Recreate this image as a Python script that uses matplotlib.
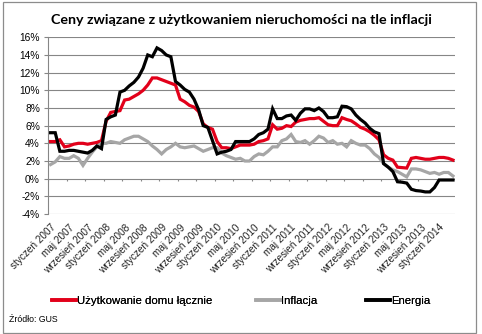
import matplotlib
matplotlib.use("Agg")
import matplotlib.pyplot as plt
from matplotlib.patches import Rectangle
from matplotlib.lines import Line2D

months_pl = ["styczeń", "luty", "marzec", "kwiecień", "maj", "czerwiec",
             "lipiec", "sierpień", "wrzesień", "październik", "listopad", "grudzień"]
categories = [f"{months_pl[m]} {y}" for y in range(2007, 2015) for m in range(12)][:88]

uzytkowanie = [4.2, 4.2, 4.4, 3.6, 3.7, 3.9, 4.0, 4.0, 3.9, 4.0, 4.1, 4.3,
               6.5, 7.5, 7.6, 7.7, 8.9, 9.0, 9.3, 9.6, 10.0, 10.6, 11.4, 11.4,
               11.2, 11.0, 10.8, 10.6, 9.0, 8.7, 8.3, 8.1, 7.6, 6.2, 5.8, 5.6,
               4.2, 3.5, 3.5, 3.4, 3.6, 3.8, 3.8, 3.8, 3.9, 4.2, 4.3, 4.5,
               6.1, 5.6, 5.7, 6.0, 5.9, 6.4, 6.6, 6.7, 6.8, 6.8, 6.9, 6.5,
               6.1, 6.0, 6.0, 6.9, 6.7, 6.55, 6.2, 5.8, 5.6, 5.3, 4.9, 4.4,
               2.7, 2.3, 2.1, 1.3, 1.25, 1.2, 2.3, 2.4, 2.3, 2.2, 2.2, 2.3,
               2.4, 2.4, 2.3, 2.1]

inflacja = [1.6, 1.9, 2.5, 2.3, 2.3, 2.6, 2.3, 1.5, 2.3, 3.0, 3.6, 4.0,
            4.0, 4.2, 4.1, 4.0, 4.4, 4.6, 4.8, 4.8, 4.5, 4.2, 3.7, 3.3,
            2.8, 3.3, 3.6, 4.0, 3.6, 3.5, 3.6, 3.7, 3.4, 3.1, 3.3, 3.5,
            3.5, 2.9, 2.6, 2.4, 2.2, 2.3, 2.0, 2.0, 2.5, 2.8, 2.7, 3.1,
            3.6, 3.6, 4.3, 4.5, 5.0, 4.2, 4.1, 4.3, 3.9, 4.3, 4.8, 4.6,
            4.1, 4.3, 3.9, 4.0, 3.6, 4.3, 4.0, 3.8, 3.8, 3.4, 2.8, 2.4,
            1.7, 1.3, 1.0, 0.8, 0.5, 0.2, 1.1, 1.1, 1.0, 0.8, 0.6, 0.7,
            0.5, 0.7, 0.7, 0.3]

energia = [5.2, 5.2, 3.1, 3.1, 3.2, 3.2, 3.1, 3.0, 2.9, 3.2, 3.7, 3.4,
           6.7, 7.0, 7.2, 9.8, 10.0, 10.5, 10.9, 11.5, 12.5, 14.0, 13.8, 14.8,
           14.5, 14.0, 13.8, 11.0, 10.6, 10.1, 9.8, 9.0, 7.8, 6.0, 5.8, 4.3,
           2.8, 3.0, 3.1, 3.3, 4.2, 4.2, 4.2, 4.2, 4.5, 5.0, 5.2, 5.6,
           7.9, 6.8, 6.8, 7.1, 7.2, 6.6, 7.4, 7.9, 7.9, 7.7, 8.0, 7.6,
           6.9, 6.9, 7.0, 8.2, 8.15, 7.9, 7.2, 6.7, 6.3, 5.7, 5.3, 5.1,
           1.7, 1.3, 0.8, -0.35, -0.4, -0.5, -1.2, -1.35, -1.4, -1.5, -1.5, -1.0,
           -0.15, -0.15, -0.15, -0.15]

y_ticks = [-4, -2, 0, 2, 4, 6, 8, 10, 12, 14, 16]
title = "Ceny związane z użytkowaniem nieruchomości na tle inflacji"
series_names = ["Użytkowanie domu łącznie", "Inflacja", "Energia"]
colors = ["#E2001A", "#A6A6A6", "#000000"]

plt.rcParams['font.family'] = ['Liberation Sans', 'DejaVu Sans']

W, H = 482, 334
fig = plt.figure(figsize=(W / 100, H / 100), dpi=100)
fig.patch.set_facecolor("white")
fig.patches.append(Rectangle((3 / W, 1 / H), 473 / W, 331 / H, transform=fig.transFigure,
                             fill=False, edgecolor="#8C8C8C", linewidth=0.9))

left, right = 48.3 / W, 455.3 / W
top, bottom = 1 - 37.3 / H, 1 - 214 / H
ax = fig.add_axes([left, bottom, right - left, top - bottom])

n = len(categories)
x = list(range(n))
grid_c = "#868686"
for v in y_ticks:
    ax.axhline(v, color=grid_c, lw=0.8, zorder=1)

for data, c in zip([uzytkowanie, inflacja, energia], colors):
    ax.plot(x, data, color=c, lw=2.3, zorder=3, solid_joinstyle="miter")

ax.set_xlim(-0.5, n - 0.5)
ax.set_ylim(-4, 16)
ax.set_yticks(y_ticks)
ax.set_yticklabels([f"{v}%" for v in y_ticks], fontsize=7.4)
ax.tick_params(axis="y", length=3, width=0.8, color=grid_c, pad=3)

# category tick marks at boundaries on the 0% line
bounds = [b - 0.5 for b in range(0, n + 1, 4)]
ax.vlines(bounds, -0.32, 0, color=grid_c, lw=0.8, zorder=2)

lab_idx = list(range(0, n, 4))
ax.set_xticks(lab_idx)
ax.set_xticklabels([categories[i] for i in lab_idx], rotation=45, ha="right",
                   rotation_mode="anchor", fontsize=7.2, color="#222222")
ax.tick_params(axis="x", length=0, pad=6)

for s in ["top", "right", "bottom"]:
    ax.spines[s].set_visible(False)
ax.spines["left"].set_color(grid_c)
ax.spines["left"].set_linewidth(0.8)

fig.text(0.5, 1 - 20 / H, title, ha="center", va="center", fontsize=10.3,
         fontweight="bold", family=["Lato", "DejaVu Sans"])

handles = [Line2D([], [], color=c, lw=2.6) for c in colors]
leg_x = [52 / W, 256 / W, 366 / W]
for h, name, lx in zip(handles, series_names, leg_x):
    lg = fig.legend([h], [name], loc="center left", bbox_to_anchor=(lx, 1 - 301 / H),
                    frameon=False, fontsize=8.2, handlelength=2.1, handletextpad=0.1,
                    borderpad=0, borderaxespad=0)
    fig.add_artist(lg)

fig.text(9 / W, 1 - 320 / H, "Źródło: GUS", ha="left", va="center", fontsize=6.3)

fig.savefig("out.png", dpi=100, facecolor="white")
